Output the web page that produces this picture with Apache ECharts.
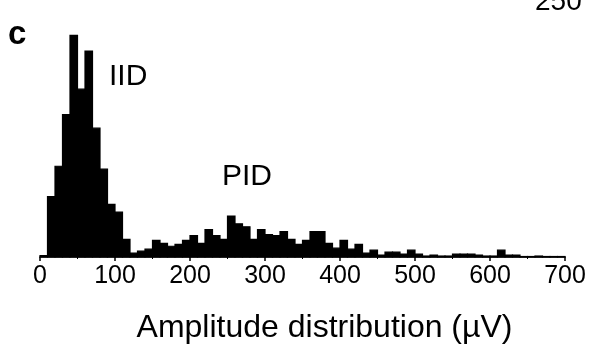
<!DOCTYPE html>
<html>
<head>
<meta charset="utf-8">
<script src="https://cdn.jsdelivr.net/npm/echarts@6/dist/echarts.min.js"></script>
<style>
  html, body { margin: 0; padding: 0; background: #fff; }
  #chart { width: 591px; height: 349px; }
</style>
</head>
<body>
<div id="chart"></div>
<script>
// Histogram of event amplitudes, 10 µV bins from 0 to 700 µV
const binWidth = 10;
const binStarts = [];
for (let s = 0; s < 700; s += binWidth) binStarts.push(s);

// Event counts per bin (arbitrary count units)
const counts = [
  1.5, 62, 93, 146, 227, 172, 211, 132, 90, 54,      // 0-100
  46, 18, 4, 6, 8, 17, 14, 11, 13, 17,               // 100-200
  22, 14, 28, 22, 18, 42, 34, 31, 18, 28,            // 200-300
  23, 22, 26, 18, 13, 17, 26, 26, 14, 9,             // 300-400
  17, 8, 13, 4, 7, 2, 5, 5, 3, 7,                    // 400-500
  3, 1, 2, 1, 1, 3, 3, 3, 2, 1,                      // 500-600
  1, 7, 2, 2, 0.5, 0.5, 1, 0.5, 0.5, 0.5             // 600-700
];

const xTicks = [0, 100, 200, 300, 400, 500, 600, 700];
const axisTitle = 'Amplitude distribution (\u00b5V)';
const panelLabel = 'c';
const peakLabels = ['IID', 'PID'];
const scaleLabel = '250';

const bins = binStarts.map((s, i) => [s, s + binWidth, counts[i]]);

const chart = echarts.init(document.getElementById('chart'), null, { renderer: 'canvas' });
const font = '"Liberation Sans", Arial, Helvetica, sans-serif';

chart.setOption({
  animation: false,
  backgroundColor: '#fff',
  grid: { left: 40, right: 26, top: 13, bottom: 86, containLabel: false },
  xAxis: [{
    type: 'value',
    min: 0, max: 700, interval: 100,
    axisLine: { show: true, lineStyle: { color: '#000', width: 1.5 } },
    axisTick: { show: true, length: 4, lineStyle: { color: '#000', width: 1.5 } },
    minorTick: { show: true, splitNumber: 2, length: 2, lineStyle: { color: '#000', width: 1 } },
    splitLine: { show: false },
    axisLabel: {
      color: '#000', fontSize: 25, fontFamily: font, margin: 7,
      formatter: v => (xTicks.indexOf(v) >= 0 ? String(v) : '')
    },
    name: axisTitle,
    nameLocation: 'middle',
    nameGap: 55,
    nameTextStyle: { color: '#000', fontSize: 32, fontFamily: font, padding: [0, 0, 0, 44] }
  }],
  yAxis: [{
    type: 'value', min: 0, max: 250,
    show: false
  }],
  series: [{
    type: 'custom',
    data: bins,
    encode: { x: [0, 1], y: 2 },
    renderItem: function (params, api) {
      const p0 = api.coord([api.value(0), api.value(2)]);
      const p1 = api.coord([api.value(1), 0]);
      return {
        type: 'rect',
        shape: { x: p0[0], y: p0[1], width: p1[0] - p0[0], height: p1[1] - p0[1] },
        style: { fill: '#000', stroke: '#000', lineWidth: 1.2 }
      };
    }
  }],
  graphic: [
    { type: 'text', left: 8, top: 18, style: { text: panelLabel, fill: '#000', font: 'bold 33px ' + font } },
    { type: 'text', left: 109, top: 62, style: { text: peakLabels[0], fill: '#000', font: '30px ' + font } },
    { type: 'text', left: 222, top: 162, style: { text: peakLabels[1], fill: '#000', font: '30px ' + font } },
    { type: 'text', left: 535, top: -12, style: { text: scaleLabel, fill: '#000', font: '28px ' + font } }
  ]
});
</script>
</body>
</html>
